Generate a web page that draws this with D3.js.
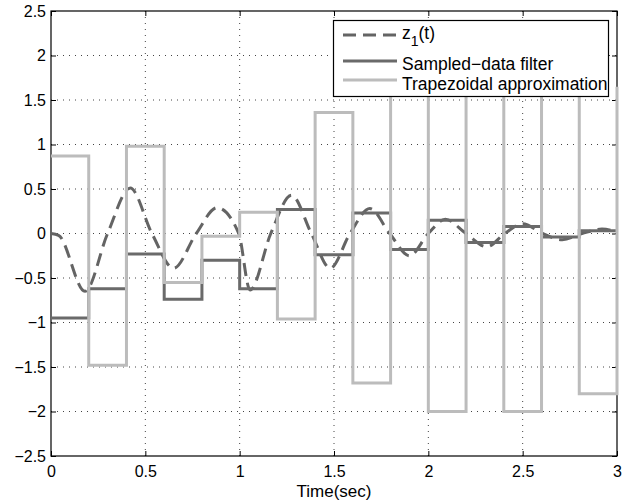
<!DOCTYPE html>
<html>
<head>
<meta charset="utf-8">
<script src="https://cdn.jsdelivr.net/npm/d3@7"></script>
<style>
  body { margin: 0; background: #fff; }
  svg { display: block; font-family: "Liberation Sans", Arial, Helvetica, sans-serif; }
  .grid line { stroke: #444; stroke-width: 1; stroke-dasharray: 1,5; }
</style>
</head>
<body>
<svg id="chart" width="631" height="503"></svg>
<script>
// sample instants for the two step series (every 0.2 s)
const sampleTimes = [0, 0.2, 0.4, 0.6, 0.8, 1.0, 1.2, 1.4, 1.6, 1.8, 2.0, 2.2, 2.4, 2.6, 2.8, 3.0];
const sampledFilter = [-0.95, -0.62, -0.23, -0.74, -0.30, -0.62, 0.27, -0.24, 0.23, -0.18, 0.15, -0.10, 0.08, -0.04, 0.03, 0.03];
const trapezoidal = [0.87, -1.48, 0.98, -0.55, -0.03, 0.24, -0.96, 1.36, -1.68, 2.0, -2.0, 2.0, -2.0, 1.9, -1.8, 1.65];

// z1(t)
const zTimes = [0, 0.04, 0.18, 0.30, 0.42, 0.535, 0.65, 0.77, 0.88, 0.995, 1.055, 1.165, 1.275, 1.38, 1.48, 1.585, 1.69, 1.795, 1.90, 2.00, 2.09, 2.20, 2.31, 2.405, 2.50, 2.605, 2.71, 2.815, 2.92, 3.0];
const zValues = [0, -0.02, -0.65, 0, 0.51, 0, -0.39, 0, 0.29, 0, -0.635, 0, 0.43, 0, -0.39, 0, 0.28, 0, -0.25, 0, 0.16, 0, -0.15, 0, 0.11, 0, -0.07, 0, 0.05, 0.02];

const xTicks = [0, 0.5, 1, 1.5, 2, 2.5, 3];
const yTicks = [-2.5, -2, -1.5, -1, -0.5, 0, 0.5, 1, 1.5, 2, 2.5];

const legendLabels = ['z1(t)', 'Sampled\u2212data filter', 'Trapezoidal approximation'];

let svg = d3.select('#chart'),
    pLeft = 51, pRight = 617, pTop = 11, pBottom = 456;

let x = d3.scaleLinear().domain([0, 3]).range([pLeft, pRight]),
    y = d3.scaleLinear().domain([-2.5, 2.5]).range([pBottom, pTop]);

let fmt = (d) => (d < 0 ? '\u2212' : '') + Math.abs(d);

// grid
let grid = svg.append('g').attr('class', 'grid');
grid.selectAll('.gx')
    .data(xTicks.slice(1, -1))
    .enter().append('line')
    .attr('x1', d => x(d)).attr('x2', d => x(d))
    .attr('y1', pTop).attr('y2', pBottom);
grid.selectAll('.gy')
    .data(yTicks.slice(1, -1))
    .enter().append('line')
    .attr('x1', pLeft).attr('x2', pRight)
    .attr('y1', d => y(d)).attr('y2', d => y(d));

// axes, ticks inside on all four sides
svg.append('g')
   .attr('transform', `translate(0,${pBottom})`)
   .call(d3.axisBottom(x).tickValues(xTicks).tickFormat(fmt).tickSizeInner(-5).tickSizeOuter(0).tickPadding(10))
   .call(g => g.select('.domain').remove());
svg.append('g')
   .attr('transform', `translate(0,${pTop})`)
   .call(d3.axisTop(x).tickValues(xTicks).tickFormat('').tickSizeInner(-5).tickSizeOuter(0))
   .call(g => g.select('.domain').remove());
svg.append('g')
   .attr('transform', `translate(${pLeft},0)`)
   .call(d3.axisLeft(y).tickValues(yTicks).tickFormat(fmt).tickSizeInner(-5).tickSizeOuter(0).tickPadding(5))
   .call(g => g.select('.domain').remove());
svg.append('g')
   .attr('transform', `translate(${pRight},0)`)
   .call(d3.axisRight(y).tickValues(yTicks).tickFormat('').tickSizeInner(-5).tickSizeOuter(0))
   .call(g => g.select('.domain').remove());

svg.selectAll('.tick line').attr('stroke', '#000');
svg.selectAll('.tick text')
   .attr('font-family', '"Liberation Sans", Arial, sans-serif')
   .attr('font-size', 16)
   .attr('fill', '#000');

svg.append('rect')
   .attr('x', pLeft).attr('y', pTop)
   .attr('width', pRight - pLeft).attr('height', pBottom - pTop)
   .attr('fill', 'none').attr('stroke', '#000').attr('stroke-width', 1.2);

svg.append('text')
   .attr('x', x(1.5)).attr('y', 497)
   .attr('text-anchor', 'middle')
   .attr('font-size', 17)
   .text('Time(sec)');

// data lines
svg.append('clipPath').attr('id', 'plot-clip')
   .append('rect')
   .attr('x', pLeft).attr('y', pTop)
   .attr('width', pRight - pLeft + 2).attr('height', pBottom - pTop);

let plot = svg.append('g').attr('clip-path', 'url(#plot-clip)');

let zLine = d3.line()
              .x((d, i) => x(zTimes[i]))
              .y(d => y(d))
              .curve(d3.curveMonotoneX);

let stepLine = d3.line()
                 .x((d, i) => x(sampleTimes[i]))
                 .y(d => y(d))
                 .curve(d3.curveStepAfter);

plot.append('path')
    .attr('d', zLine(zValues))
    .attr('fill', 'none').attr('stroke', '#646464')
    .attr('stroke-width', 3).attr('stroke-dasharray', '13,7');

plot.append('path')
    .attr('d', stepLine(sampledFilter))
    .attr('fill', 'none').attr('stroke', '#6a6a6a')
    .attr('stroke-width', 3);

plot.append('path')
    .attr('d', stepLine(trapezoidal))
    .attr('fill', 'none').attr('stroke', '#bcbcbc')
    .attr('stroke-width', 3);

// legend
let legend = svg.append('g');
legend.append('rect')
      .attr('x', 333.5).attr('y', 20.5)
      .attr('width', 275).attr('height', 76)
      .attr('fill', '#fff').attr('stroke', '#000').attr('stroke-width', 1.2);

let rows = [
  {lineY: 35, textY: 39, color: '#646464', dash: '13,7'},
  {lineY: 61, textY: 70, color: '#6a6a6a', dash: null},
  {lineY: 80, textY: 90, color: '#bcbcbc', dash: null}
];

rows.forEach((r, i) => {
  legend.append('line')
        .attr('x1', 343).attr('x2', 397)
        .attr('y1', r.lineY).attr('y2', r.lineY)
        .attr('stroke', r.color).attr('stroke-width', 3)
        .attr('stroke-dasharray', r.dash);
  let t = legend.append('text')
                .attr('x', 402).attr('y', r.textY)
                .attr('font-size', 17.5);
  if (i === 0) {
    t.append('tspan').text('z');
    t.append('tspan').attr('dy', 7).attr('font-size', 14).text('1');
    t.append('tspan').attr('dy', -7).text('(t)');
  } else {
    t.text(legendLabels[i]);
  }
});
</script>
</body>
</html>
